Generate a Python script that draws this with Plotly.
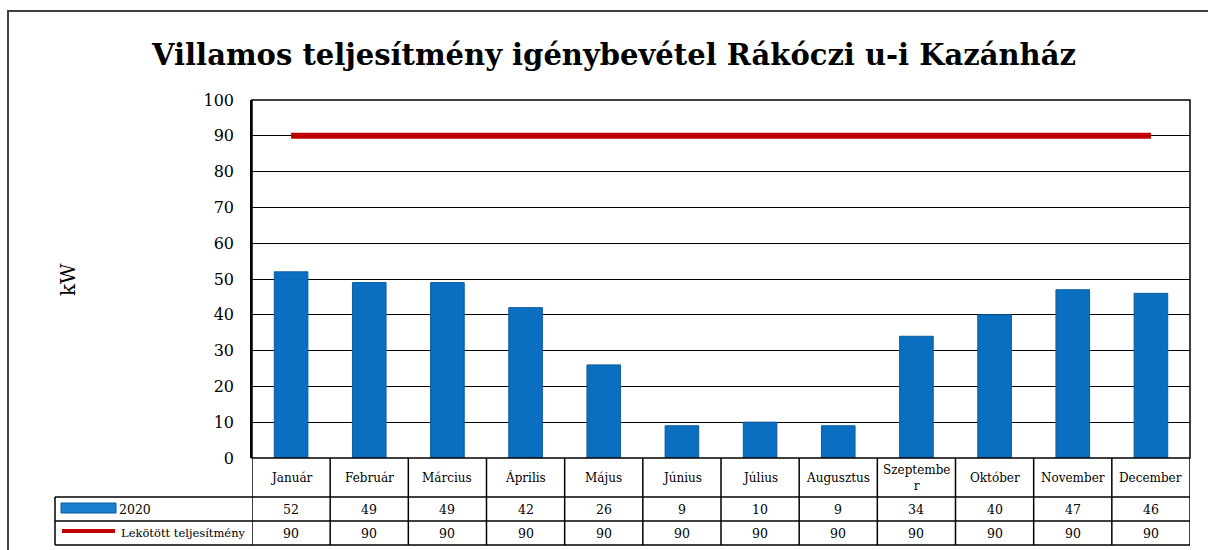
import plotly.graph_objects as go

months = ["Január", "Február", "Március", "Április", "Május", "Június",
          "Július", "Augusztus", "Szeptember", "Október", "November", "December"]
month_labels = ["Január", "Február", "Március", "Április", "Május", "Június",
                "Július", "Augusztus", "Szeptembe<br>r", "Október", "November", "December"]
usage_2020 = [52, 49, 49, 42, 26, 9, 10, 9, 34, 40, 47, 46]
contracted = [90, 90, 90, 90, 90, 90, 90, 90, 90, 90, 90, 90]

FONT = "DejaVu Serif"
W, H = 1208, 550
L, R, T, B = 252, 1190, 100, 458   # plot area in pixels


def px(x):
    return (x - L) / (R - L)


def py(y):
    return (B - y) / (B - T)


fig = go.Figure()
fig.add_trace(go.Bar(
    x=months, y=usage_2020, name="2020", width=0.43,
    marker=dict(color="#0B6FC1", line=dict(color="#0A5C9E", width=1)),
))
fig.add_trace(go.Scatter(
    x=months, y=contracted, name="Lekötött teljesítmény", mode="lines",
    line=dict(color="#C00000", width=6),
))

shapes = []
annotations = []

# plot area box
shapes.append(dict(type="rect", xref="paper", yref="paper", x0=0, x1=1, y0=0, y1=1,
                   line=dict(color="black", width=1.5)))
# outer frame
shapes.append(dict(type="rect", xref="paper", yref="paper", x0=px(8), x1=px(1215),
                   y0=py(560), y1=py(11), line=dict(color="#404040", width=2)))

# data table rows
row_y = [py(458), py(497), py(521), py(545)]
for yy in row_y[1:]:
    shapes.append(dict(type="line", xref="paper", yref="paper", x0=px(55), x1=1,
                       y0=yy, y1=yy, line=dict(color="black", width=1.5)))
shapes.append(dict(type="line", xref="paper", yref="paper", x0=px(55), x1=px(55),
                   y0=row_y[1], y1=row_y[3], line=dict(color="black", width=1.5)))
for i in range(len(months) + 1):
    shapes.append(dict(type="line", xref="x", yref="paper", x0=i - 0.5, x1=i - 0.5,
                       y0=row_y[0], y1=row_y[3], line=dict(color="black", width=1.5)))


def cell(x, y, text, size, xref="x", xanchor="center"):
    return dict(x=x, y=y, xref=xref, yref="paper", text=text, showarrow=False,
                xanchor=xanchor, yanchor="middle",
                font=dict(size=size, family=FONT, color="black"))


for i, (m, v, c) in enumerate(zip(month_labels, usage_2020, contracted)):
    annotations.append(cell(i, (row_y[0] + row_y[1]) / 2, m, 12))
    annotations.append(cell(i, (row_y[1] + row_y[2]) / 2, str(v), 12.5))
    annotations.append(cell(i, (row_y[2] + row_y[3]) / 2, str(c), 12.5))

# legend keys inside table
shapes.append(dict(type="rect", xref="paper", yref="paper", x0=px(61), x1=px(116),
                   y0=py(513), y1=py(503), fillcolor="#1A7FD0",
                   line=dict(color="#0A5C9E", width=1)))
shapes.append(dict(type="line", xref="paper", yref="paper", x0=px(62), x1=px(115),
                   y0=py(531), y1=py(531), line=dict(color="#C00000", width=4)))
annotations.append(cell(px(117), (row_y[1] + row_y[2]) / 2, "2020", 12.5,
                        xref="paper", xanchor="left"))
annotations.append(cell(px(119), (row_y[2] + row_y[3]) / 2, "Lekötött teljesítmény", 11.5,
                        xref="paper", xanchor="left"))

# y axis title
kw = cell(px(68), py(280), "kW", 20, xref="paper")
kw["textangle"] = -90
annotations.append(kw)

fig.update_layout(
    width=W, height=H,
    margin=dict(l=L, r=W - R, t=T, b=H - B),
    paper_bgcolor="white", plot_bgcolor="white",
    showlegend=False,
    bargap=0.57,
    title=dict(text="<b>Villamos teljesítmény igénybevétel Rákóczi u-i Kazánház</b>",
               x=614 / W, xanchor="center",
               xref="container", y=1 - 55 / H, yanchor="middle",
               font=dict(size=29, family=FONT, color="black")),
    shapes=shapes,
    annotations=annotations,
    font=dict(family=FONT, color="black"),
)
fig.update_xaxes(showticklabels=False, showgrid=False, ticks="", range=[-0.5, 11.5])
fig.update_yaxes(range=[0, 100], dtick=10, showgrid=True, gridcolor="black", gridwidth=1,
                 showline=True, linecolor="black", linewidth=1.5, ticks="",
                 ticklabelstandoff=13, zeroline=False,
                 tickfont=dict(size=16, family=FONT, color="black"))

fig.write_html("out.html", config={"displayModeBar": False},
               post_script="document.body.style.margin='0';")
